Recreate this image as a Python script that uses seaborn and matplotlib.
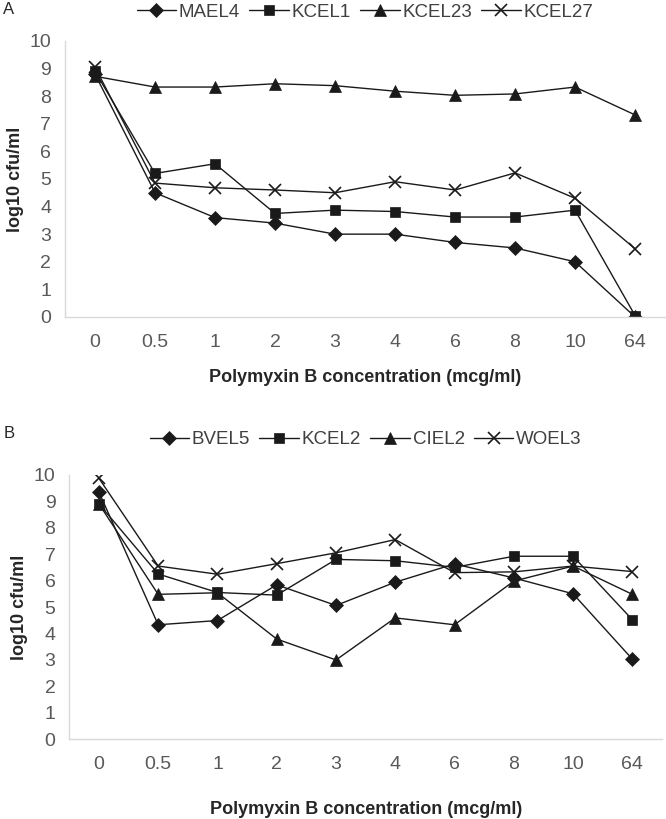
# Polymyxin B time-kill style chart, two panels (A and B)
import pandas as pd
import matplotlib
matplotlib.use("Agg")
import matplotlib.pyplot as plt
import seaborn as sns

# ------------------------------
# Data
# ------------------------------
concentrations = ["0", "0.5", "1", "2", "3", "4", "6", "8", "10", "64"]

# Panel A
strains_a = ["MAEL4", "KCEL1", "KCEL23", "KCEL27"]
mael4 = [8.8, 4.5, 3.6, 3.4, 3.0, 3.0, 2.7, 2.5, 2.0, 0.0]
kcel1 = [8.9, 5.2, 5.55, 3.75, 3.87, 3.82, 3.62, 3.62, 3.87, 0.05]
kcel23 = [8.72, 8.33, 8.33, 8.45, 8.38, 8.18, 8.03, 8.08, 8.33, 7.32]
kcel27 = [9.05, 4.85, 4.68, 4.6, 4.5, 4.9, 4.6, 5.22, 4.3, 2.47]

# Panel B
strains_b = ["BVEL5", "KCEL2", "CIEL2", "WOEL3"]
bvel5 = [9.35, 4.33, 4.49, 5.84, 5.06, 5.94, 6.63, 6.1, 5.5, 3.03]
kcel2 = [8.9, 6.25, 5.55, 5.45, 6.8, 6.75, 6.5, 6.92, 6.92, 4.52]
ciel2 = [8.9, 5.48, 5.54, 3.79, 3.0, 4.59, 4.33, 5.98, 6.55, 5.48]
woel3 = [9.87, 6.55, 6.24, 6.64, 7.05, 7.55, 6.3, 6.33, 6.55, 6.34]

markers = ["D", "s", "^", "x"]
marker_sizes = [7, 7.5, 9, 8]


def long_table(names, series):
    rows = []
    for name, vals in zip(names, series):
        for i, v in enumerate(vals):
            rows.append({"strain": name, "pos": i, "conc": concentrations[i], "cfu": v})
    return pd.DataFrame(rows)


data_a = long_table(strains_a, [mael4, kcel1, kcel23, kcel27])
data_b = long_table(strains_b, [bvel5, kcel2, ciel2, woel3])

# ------------------------------
# Plot
# ------------------------------
sns.set_style("white")
plt.rcParams["font.family"] = ["Liberation Sans", "DejaVu Sans"]

fig = plt.figure(figsize=(6.66, 8.19), dpi=100)
ax_a = fig.add_axes([0.0976, 0.613, 0.901, 0.337])
ax_b = fig.add_axes([0.104, 0.0973, 0.890, 0.323])

tick_grey = "#595959"
spine_grey = "#d9d9d9"

for ax, table, names, legend_y, xpad in [(ax_a, data_a, strains_a, 1.104, 13),
                                         (ax_b, data_b, strains_b, 1.133, 20)]:
    for name, mk, ms in zip(names, markers, marker_sizes):
        sub = table[table["strain"] == name]
        sns.lineplot(data=sub, x="pos", y="cfu", ax=ax, color="#1a1a1a",
                     linewidth=1.0, marker=mk, markersize=ms,
                     markeredgewidth=1.2 if mk == "x" else 0.5,
                     markeredgecolor="#1a1a1a", label=name)

    ax.set_xlim(-0.5, len(concentrations) - 0.5)
    ax.set_ylim(0, 10)
    ax.set_xticks(range(len(concentrations)))
    ax.set_xticklabels(concentrations)
    ax.set_yticks(range(0, 11))
    ax.tick_params(axis="both", length=0, labelsize=14, labelcolor=tick_grey)
    ax.tick_params(axis="y", pad=10)
    ax.tick_params(axis="x", pad=12)

    for side in ["top", "right"]:
        ax.spines[side].set_visible(False)
    for side in ["left", "bottom"]:
        ax.spines[side].set_color(spine_grey)
        ax.spines[side].set_linewidth(1.0)

    ax.set_xlabel("Polymyxin B concentration (mcg/ml)", fontsize=13,
                  fontweight="bold", color="#262626", labelpad=xpad)
    ax.set_ylabel("log10 cfu/ml", fontsize=13, fontweight="bold",
                  color="#262626", labelpad=4)

    leg = ax.legend(loc="center", bbox_to_anchor=(0.5, legend_y), ncol=4,
                    frameon=False, fontsize=13.5, handlelength=2.1,
                    handletextpad=0.15, columnspacing=0.5, borderaxespad=0)
    for t in leg.get_texts():
        t.set_color("#404040")

fig.text(0.004, 0.988, "A", fontsize=12, va="center", ha="left", color="#262626")
fig.text(0.006, 0.471, "B", fontsize=12, va="center", ha="left", color="#262626")

plt.savefig("out.png", dpi=100)
